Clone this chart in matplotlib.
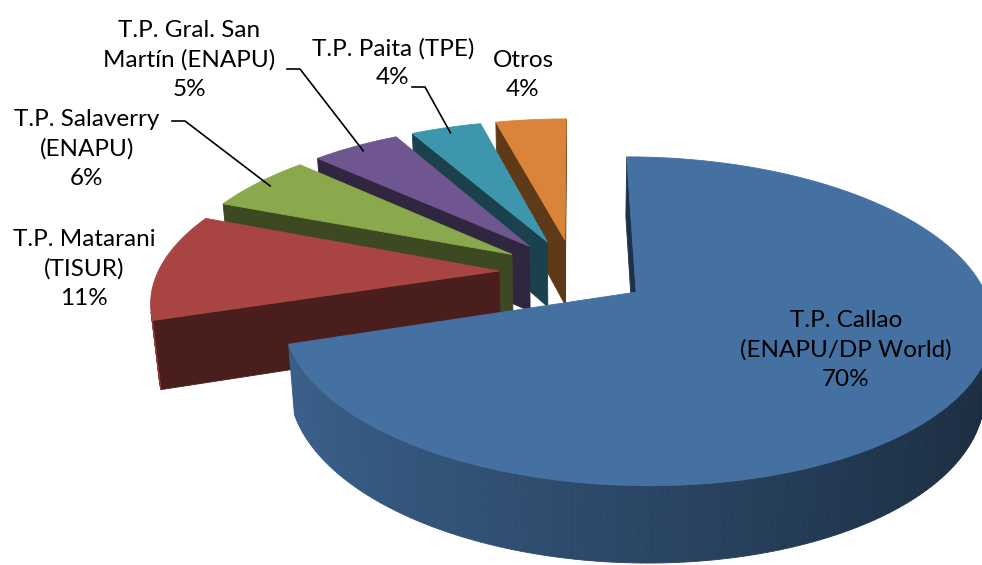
import numpy as np
import matplotlib.pyplot as plt
import matplotlib.colors as mcolors
from matplotlib.patches import Polygon

labels = ['T.P. Callao\n(ENAPU/DP World)', 'T.P. Matarani\n(TISUR)', 'T.P. Salaverry\n(ENAPU)',
          'T.P. Gral. San\nMartín (ENAPU)', 'T.P. Paita (TPE)', 'Otros']
shares = [70, 11, 6, 5, 4, 4]
colors = ['#4470a2', '#a84442', '#8aa84c', '#6f5690', '#3e96ac', '#d98438']

# label centres (pixels) and leader line starts (None = no leader)
label_pos = [(846, 350), (84, 269), (87, 149), (189, 60), (393, 63), (523, 75)]
leader_start = [None, None, (172, 121), (287, 69), (412, 87), None]

# fake 3d camera
elev = np.radians(26.5)
dist = 5.16
focal = 1760
cx0, cy0 = 574, 272
explode = 0.22
thick = 0.222
cam = np.array([0, -dist * np.cos(elev), dist * np.sin(elev)])


def project(x, y, z):
    yc = y * np.sin(elev) + z * np.cos(elev)
    d = dist + y * np.cos(elev) - z * np.sin(elev)
    return cx0 + focal * x / d, cy0 - focal * yc / d


def shade(c, f):
    return tuple(np.array(mcolors.to_rgb(c)) * f)


def face(ax, pts, color):
    xy = [project(*p) for p in pts]
    ax.add_patch(Polygon(xy, closed=True, facecolor=color, edgecolor=color, lw=0.6))


fig = plt.figure(figsize=(9.82, 5.65), dpi=100)
ax = fig.add_axes([0, 0, 1, 1])
ax.set_xlim(0, 982)
ax.set_ylim(565, 0)
ax.axis('off')

total = sum(shares)
slices = []
start = 90.0
for i, v in enumerate(shares):
    a0 = start
    a1 = start - v / total * 360
    mid = np.radians((a0 + a1) / 2)
    tip = explode * np.array([np.cos(mid), np.sin(mid)])
    slices.append((i, np.radians(a0), np.radians(a1), mid, tip))
    start = a1

# back to front
for i, a0, a1, mid, tip in sorted(slices, key=lambda s: -s[4][1]):
    col = colors[i]
    tx, ty = tip
    # radial walls
    for a, sgn in ((a0, 1), (a1, -1)):
        d = np.array([np.cos(a), np.sin(a)])
        n = sgn * np.array([-np.sin(a), np.cos(a), 0])
        p = np.array([tx + d[0] / 2, ty + d[1] / 2, 0])
        if np.dot(cam - p, n) > 0:
            face(ax, [(tx, ty, 0), (tx + d[0], ty + d[1], 0),
                      (tx + d[0], ty + d[1], -thick), (tx, ty, -thick)], shade(col, 0.44))
    # outer wall
    angs = np.linspace(a1, a0, max(int(np.degrees(a0 - a1)), 2) + 1)
    for b0, b1 in zip(angs[:-1], angs[1:]):
        bm = (b0 + b1) / 2
        n = np.array([np.cos(bm), np.sin(bm), 0])
        p = np.array([tx + n[0], ty + n[1], 0])
        if np.dot(cam - p, n) > 0:
            f = 0.62 - 0.24 * np.cos(bm)
            face(ax, [(tx + np.cos(b0), ty + np.sin(b0), 0), (tx + np.cos(b1), ty + np.sin(b1), 0),
                      (tx + np.cos(b1), ty + np.sin(b1), -thick), (tx + np.cos(b0), ty + np.sin(b0), -thick)],
                 shade(col, f))
    # top
    arc = np.linspace(a0, a1, 120)
    face(ax, [(tx, ty, 0)] + [(tx + np.cos(a), ty + np.sin(a), 0) for a in arc], col)

# labels and leaders
for i, a0, a1, mid, tip in slices:
    x, y = label_pos[i]
    ax.text(x, y, f'{labels[i]}\n{shares[i]}%', ha='center', va='center', fontsize=17.5,
            family='Lato', linespacing=1.45, color='black')
    if leader_start[i] is not None:
        sx, sy = leader_start[i]
        ex, ey = project(tip[0] + 0.95 * np.cos(mid), tip[1] + 0.95 * np.sin(mid), 0)
        ax.plot([sx, sx + 13, ex], [sy, sy, ey], color='black', lw=1.2)

fig.savefig('out.png', dpi=100)
